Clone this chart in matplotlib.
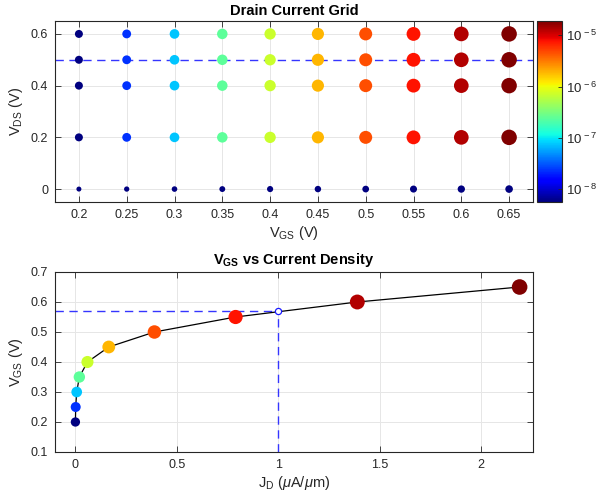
import numpy as np
import matplotlib
matplotlib.use("Agg")
import matplotlib.pyplot as plt
from matplotlib.colors import LogNorm
from matplotlib.ticker import FixedLocator, NullLocator

# ---------------- data ----------------
vgs = [0.20, 0.25, 0.30, 0.35, 0.40, 0.45, 0.50, 0.55, 0.60, 0.65]
vds = [0.0, 0.2, 0.4, 0.5, 0.6]
# drain current (A) for VDS > 0
id_a = [5.6e-9, 2.3e-8, 7.5e-8, 2.4e-7, 7.0e-7, 1.9e-6, 4.6e-6, 7.8e-6, 1.3e-5, 1.9e-5]
# current density (uA/um) at the bias VDS
jd = [0.0006, 0.002, 0.007, 0.02, 0.06, 0.165, 0.39, 0.79, 1.39, 2.19]
vds_bias = 0.5
jd_target = 1.0
vgs_target = 0.57

x_ticks_top = [0.2, 0.25, 0.3, 0.35, 0.4, 0.45, 0.5, 0.55, 0.6, 0.65]
x_tick_labels_top = ["0.2", "0.25", "0.3", "0.35", "0.4", "0.45", "0.5", "0.55", "0.6", "0.65"]
y_ticks_top = [0, 0.2, 0.4, 0.6]
y_tick_labels_top = ["0", "0.2", "0.4", "0.6"]
cb_ticks = [1e-8, 1e-7, 1e-6, 1e-5]
cb_tick_labels = [r"$10^{\,-8}$", r"$10^{\,-7}$", r"$10^{\,-6}$", r"$10^{\,-5}$"]
x_ticks_bot = [0, 0.5, 1, 1.5, 2]
x_tick_labels_bot = ["0", "0.5", "1", "1.5", "2"]
y_ticks_bot = [0.1, 0.2, 0.3, 0.4, 0.5, 0.6, 0.7]
y_tick_labels_bot = ["0.1", "0.2", "0.3", "0.4", "0.5", "0.6", "0.7"]

# ---------------- style ----------------
plt.rcParams["font.family"] = ["Liberation Sans", "DejaVu Sans"]
plt.rcParams["mathtext.fontset"] = "custom"
plt.rcParams["mathtext.rm"] = "Liberation Sans"
plt.rcParams["mathtext.it"] = "Liberation Sans:italic"
plt.rcParams["mathtext.bf"] = "Liberation Sans:bold"
AX_COL = "#262626"
GRID_COL = "#e6e6e6"
DASH_COL = "#3535ff"
TICK_FS = 9
LAB_FS = 10.5
TITLE_FS = 10.5

W, H = 597, 495
fig = plt.figure(figsize=(W / 100, H / 100), dpi=100)

def px_axes(l, t, r, b):
    return fig.add_axes([l / W, 1 - b / H, (r - l) / W, (b - t) / H])

def style_axes(ax):
    for s in ax.spines.values():
        s.set_color(AX_COL)
        s.set_linewidth(0.8)
    ax.tick_params(direction="in", length=4, width=0.6, colors=AX_COL,
                   labelsize=TICK_FS, top=True, right=True, pad=5)
    ax.grid(True, color=GRID_COL, linewidth=0.7)
    ax.set_axisbelow(True)

cmap = plt.get_cmap("jet")
norm = LogNorm(vmin=min(id_a), vmax=max(id_a))
n = len(vgs)
frac = np.arange(n) / (n - 1)

# ---------------- top: drain current grid ----------------
ax1 = px_axes(55, 21, 533, 202)
style_axes(ax1)
ax1.axhline(vds_bias, color=DASH_COL, linestyle=(0, (6, 4)), linewidth=1.0, zorder=2)

vgs_arr = np.array(vgs)
id_arr = np.array(id_a)
d_on = 8.0 + 7.5 * frac          # marker diameters in px
d_off = 5.0 + 2.6 * frac
s_on = (d_on * 0.72) ** 2
s_off = (d_off * 0.72) ** 2

sc = None
for v in vds:
    if v == 0:
        ax1.scatter(vgs_arr, np.full(n, v), s=s_off, color=cmap(0.0),
                    edgecolors="none", zorder=3)
    else:
        sc = ax1.scatter(vgs_arr, np.full(n, v), s=s_on, c=id_arr, cmap=cmap,
                         norm=norm, edgecolors="none", zorder=3)

ax1.set_xlim(0.175, 0.675)
ax1.set_ylim(-0.05, 0.65)
ax1.set_xticks(x_ticks_top)
ax1.set_xticklabels(x_tick_labels_top)
ax1.set_yticks(y_ticks_top)
ax1.set_yticklabels(y_tick_labels_top)
ax1.set_xlabel(r"V$_{\rm GS}$ (V)", fontsize=LAB_FS, color=AX_COL, labelpad=2)
ax1.set_ylabel(r"V$_{\rm DS}$ (V)", fontsize=LAB_FS, color=AX_COL, labelpad=4)
ax1.set_title("Drain Current Grid", fontsize=TITLE_FS, fontweight="bold", pad=4)

cax = px_axes(537, 21, 562, 202)
cb = fig.colorbar(sc, cax=cax)
cb.outline.set_edgecolor(AX_COL)
cb.outline.set_linewidth(0.8)
cax.yaxis.set_major_locator(FixedLocator(cb_ticks))
cax.yaxis.set_minor_locator(NullLocator())
cax.set_yticklabels(cb_tick_labels)
cax.tick_params(direction="in", length=3, width=0.6, colors=AX_COL,
                labelsize=9.5, pad=3)

# ---------------- bottom: VGS vs current density ----------------
ax2 = px_axes(55, 272, 533, 452)
style_axes(ax2)
ax2.plot(jd, vgs, color="black", linewidth=0.9, zorder=3)
d_b = 9.3 + 6.3 * frac
ax2.scatter(jd, vgs, s=(d_b * 0.72) ** 2, c=id_arr, cmap=cmap, norm=norm,
            edgecolors="none", zorder=4)
ax2.plot([-0.1, jd_target], [vgs_target, vgs_target], color=DASH_COL,
         linestyle=(0, (6, 4)), linewidth=1.0, zorder=2)
ax2.plot([jd_target, jd_target], [0.1, vgs_target], color=DASH_COL,
         linestyle=(0, (6, 4)), linewidth=1.0, zorder=2)
ax2.plot([jd_target], [vgs_target], marker="o", markersize=5.5 * 0.72 + 0.5,
         markerfacecolor="white", markeredgecolor="#1a1aff",
         markeredgewidth=0.9, linestyle="none", zorder=5)

ax2.set_xlim(-0.1, 2.256)
ax2.set_ylim(0.1, 0.7)
ax2.set_xticks(x_ticks_bot)
ax2.set_xticklabels(x_tick_labels_bot)
ax2.set_yticks(y_ticks_bot)
ax2.set_yticklabels(y_tick_labels_bot)
ax2.set_xlabel(r"J$_{\rm D}$ ($\mu$A/$\mu$m)", fontsize=LAB_FS, color=AX_COL, labelpad=2)
ax2.set_ylabel(r"V$_{\rm GS}$ (V)", fontsize=LAB_FS, color=AX_COL, labelpad=4)
ax2.set_title(r"$\mathbf{V}_{\mathbf{GS}}$ vs Current Density", fontsize=TITLE_FS,
              fontweight="bold", pad=6)

fig.savefig("out.png", dpi=100, facecolor="white")
